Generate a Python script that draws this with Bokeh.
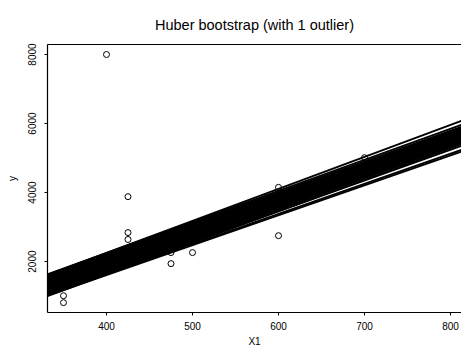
from bokeh.plotting import figure
from bokeh.models import LinearAxis, FixedTicker, Range1d
from bokeh.embed import file_html
from bokeh.resources import INLINE

# observed data (X1, y) -- includes the one outlier at X1=400
x1 = [350, 350, 400, 425, 425, 425, 475, 475, 475, 500, 500, 600, 600, 700]
y = [1010, 810, 8000, 3880, 2840, 2640, 2840, 2260, 1940, 3070, 2260, 4150, 2750, 5010]

# bootstrap Huber fits: fitted value at X1=500 and slope
boot_fit_500 = [2830, 2880, 2760, 2960, 2720, 2850, 2795, 3025, 2655, 2910,
                2785, 2855, 2615, 2985, 2740, 2895, 2820, 3065, 2690, 2805,
                2940, 2565, 2870, 2770, 3090, 2730, 2840, 2920, 2670, 2975,
                2790, 2860, 2635, 3040, 2750, 2900, 2815, 2700, 2950, 2780,
                3120, 2595, 2875, 2835, 2715, 3000, 2800, 2925, 2680, 2845,
                2765, 3075, 2645, 2970, 2810, 2745, 2890, 2540, 3010, 2785,
                2865, 2705, 2935, 2825, 2590, 3050, 2755, 2905, 3180, 2475,
                3150, 2510]
boot_slope = [9.05, 8.89, 9.18, 8.97, 9.11, 8.82, 9.24, 8.93, 9.15, 9.01,
              8.86, 9.29, 9.08, 8.95, 8.77, 9.20, 8.99, 8.87, 9.13, 9.04,
              9.22, 8.91, 9.10, 8.96, 8.84, 9.26, 9.02, 8.79, 9.16, 9.07,
              8.92, 9.23, 8.98, 8.85, 9.14, 9.00, 9.32, 8.88, 9.12, 9.03,
              8.90, 9.19, 8.81, 9.09, 8.94, 9.17, 9.06, 8.83, 9.21, 8.97,
              9.12, 8.89, 9.25, 9.01, 8.74, 9.08, 8.95, 9.15, 8.87, 9.20,
              8.99, 9.04, 8.80, 9.35, 9.10, 8.93, 9.22, 9.06, 9.27, 8.67,
              8.99, 8.72]

x_ticks = [400, 500, 600, 700, 800]
y_ticks = [2000, 4000, 6000, 8000]

X_LO, X_HI = 331.4, 812.8
Y_LO, Y_HI = 524, 8290
FONT = "Liberation Sans"

p = figure(width=461, height=353,
           x_range=Range1d(X_LO, X_HI), y_range=Range1d(Y_LO, Y_HI),
           output_backend="svg", toolbar_location=None,
           min_border_left=47, min_border_right=0,
           min_border_top=44, min_border_bottom=41,
           x_axis_label="X1", y_axis_label="y",
           title="Huber bootstrap (with 1 outlier)")

# bootstrap regression lines across the whole x range
ends = [X_LO - 30, X_HI + 30]
xs = [ends for _ in boot_slope]
ys = [[c + s * (e - 500) for e in ends] for c, s in zip(boot_fit_500, boot_slope)]
p.multi_line(xs, ys, line_color="black", line_width=1.8)

p.scatter(x1, y, marker="circle", size=6, fill_color=None,
          line_color="black", line_width=1)

p.grid.visible = False
p.outline_line_color = None
p.background_fill_color = "white"
p.border_fill_color = "white"

p.xaxis.ticker = FixedTicker(ticks=x_ticks, minor_ticks=[])
p.yaxis.ticker = FixedTicker(ticks=y_ticks, minor_ticks=[])
for ax in (p.xaxis[0], p.yaxis[0]):
    ax.major_tick_in = 0
    ax.major_tick_out = 3
    ax.minor_tick_in = 0
    ax.minor_tick_out = 0
    ax.axis_line_color = "black"
    ax.axis_line_width = 1.2
    ax.major_tick_line_color = "black"
    ax.major_label_text_font = FONT
    ax.major_label_text_font_size = "10px"
    ax.major_label_text_color = "black"
    ax.axis_label_text_font = FONT
    ax.axis_label_text_font_size = "10px"
    ax.axis_label_text_font_style = "normal"
    ax.axis_label_text_color = "black"

p.xaxis.major_label_standoff = 6
p.xaxis.axis_label_standoff = 3
p.yaxis.major_label_orientation = "vertical"
p.yaxis.major_label_standoff = 8
p.yaxis.axis_label_standoff = 8

top = LinearAxis(ticker=FixedTicker(ticks=[], minor_ticks=[]),
                 major_tick_in=0, major_tick_out=0,
                 minor_tick_in=0, minor_tick_out=0,
                 major_label_text_font_size="0px",
                 axis_line_color="black", axis_line_width=1.2)
p.add_layout(top, "above")

p.title.text_font = FONT
p.title.text_font_size = "14.5px"
p.title.text_font_style = "normal"
p.title.text_color = "black"
p.title.align = "center"
p.title.text_line_height = 0.9
p.title.standoff = 24

open("out.html", "w").write(file_html(p, INLINE))
